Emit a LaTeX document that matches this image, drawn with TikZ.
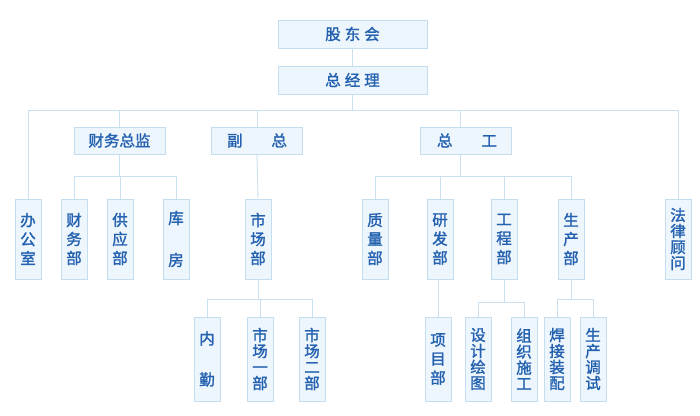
\documentclass[tikz,border=0pt]{standalone}
\usepackage{fontspec}
\setmainfont{Noto Sans CJK SC}
\newfontfamily\cjkm[FakeBold=1.6]{Noto Sans CJK SC}
\definecolor{txtblue}{HTML}{2462B0}
\definecolor{bordblue}{HTML}{C4DEF0}
\definecolor{fillblue}{HTML}{EEF6FD}
\definecolor{lineblue}{HTML}{C8E0F0}
\tikzset{
  box/.style={draw=bordblue, fill=fillblue, line width=0.9pt, text=txtblue, inner sep=0pt, font=\fontsize{15.5}{16}\selectfont\cjkm},
  topbox/.style={box, minimum width=149pt, minimum height=28pt},
  midbox/.style={box, minimum width=91pt, minimum height=27pt},
  vbox/.style={box, minimum width=26pt, minimum height=80pt, align=center, font=\fontsize{15.5}{19}\selectfont\cjkm},
  vboxb/.style={box, minimum width=26pt, minimum height=84pt, align=center, font=\fontsize{15.5}{19}\selectfont\cjkm},
  tight/.style={font=\fontsize{15.5}{16}\selectfont\cjkm},
  conn/.style={draw=lineblue, line width=0.9pt}
}
\begin{document}
\begin{tikzpicture}[x=1pt,y=-1pt]
\useasboundingbox (0,0) rectangle (700,415);
% top
\node[topbox] (gdh) at (352.5,34) {股\hspace{4pt}东\hspace{4pt}会};
\node[topbox] (zjl) at (352.5,80) {总\hspace{4pt}经\hspace{4pt}理};
% middle
\node[midbox] (cwzj) at (119.5,140.5) {财务总监};
\node[midbox] (fz) at (257,140.5) {副\hspace{29pt}总};
\node[midbox] (zg) at (465.5,140.5) {\hspace{3pt}总\hspace{29pt}工};
% row 1
\node[vbox] (bgs) at (28,239) {办\\公\\室};
\node[vbox] (cwb) at (74,239) {财\\务\\部};
\node[vbox] (gyb) at (120,239) {供\\应\\部};
\node[vbox] (kf) at (176,239) {库\\[23pt]房};
\node[vbox] (scb) at (258,239) {市\\场\\部};
\node[vbox] (zlb) at (375,239) {质\\量\\部};
\node[vbox] (yfb) at (440,239) {研\\发\\部};
\node[vbox] (gcb) at (504,239) {工\\程\\部};
\node[vbox] (sczb) at (571,239) {生\\产\\部};
\node[vbox,tight] (flgw) at (678,239) {法\\律\\顾\\问};
% row 2
\node[vboxb] (nq) at (207,359) {内\\[22pt]勤};
\node[vboxb,tight] (sc1) at (260,359) {市\\场\\一\\部};
\node[vboxb,tight] (sc2) at (312,359) {市\\场\\二\\部};
\node[vboxb] (xmb) at (438,359) {项\\目\\部};
\node[vboxb,tight] (sjht) at (478,359) {设\\计\\绘\\图};
\node[vboxb,tight] (zzsg) at (524,359) {组\\织\\施\\工};
\node[vboxb,tight] (hjzp) at (557,359) {焊\\接\\装\\配};
\node[vboxb,tight] (scts) at (593,359) {生\\产\\调\\试};
% bus coordinates
\coordinate (b1) at (0,110);
\coordinate (b2) at (0,176);
\coordinate (b3) at (0,299);
\coordinate (b4) at (0,302);
% connectors
\draw[conn] (gdh.south) -- (zjl.north);
\draw[conn] (zjl.south) -- (zjl.south |- b1);
\draw[conn] (bgs.north) -- (bgs.north |- b1) -- (flgw.north |- b1) -- (flgw.north);
\draw[conn] (cwzj.north |- b1) -- (cwzj.north);
\draw[conn] (fz.north |- b1) -- (fz.north);
\draw[conn] ([xshift=-5pt]zg.north |- b1) -- ([xshift=-5pt]zg.north);
% finance group
\draw[conn] (cwzj.south) -- (cwzj.south |- b2);
\draw[conn] (cwb.north) -- (cwb.north |- b2) -- (kf.north |- b2) -- (kf.north);
\draw[conn] (gyb.north |- b2) -- (gyb.north);
% vice GM
\draw[conn] (fz.south) -- (scb.north);
% chief engineer group
\draw[conn] ([xshift=-5pt]zg.south) -- ([xshift=-5pt]zg.south |- b2);
\draw[conn] (zlb.north) -- (zlb.north |- b2) -- (sczb.north |- b2) -- (sczb.north);
\draw[conn] (yfb.north |- b2) -- (yfb.north);
\draw[conn] (gcb.north |- b2) -- (gcb.north);
% market
\draw[conn] (scb.south) -- (scb.south |- b3);
\draw[conn] (nq.north) -- (nq.north |- b3) -- (sc2.north |- b3) -- (sc2.north);
\draw[conn] (sc1.north |- b3) -- (sc1.north);
% R&D
\draw[conn] (xmb.north |- yfb.south) -- (xmb.north);
% engineering
\draw[conn] (gcb.south) -- (gcb.south |- b4);
\draw[conn] (sjht.north) -- (sjht.north |- b4) -- (zzsg.north |- b4) -- (zzsg.north);
% production
\draw[conn] (sczb.south) -- (sczb.south |- b3);
\draw[conn] (hjzp.north) -- (hjzp.north |- b3) -- (scts.north |- b3) -- (scts.north);
\end{tikzpicture}
\end{document}
